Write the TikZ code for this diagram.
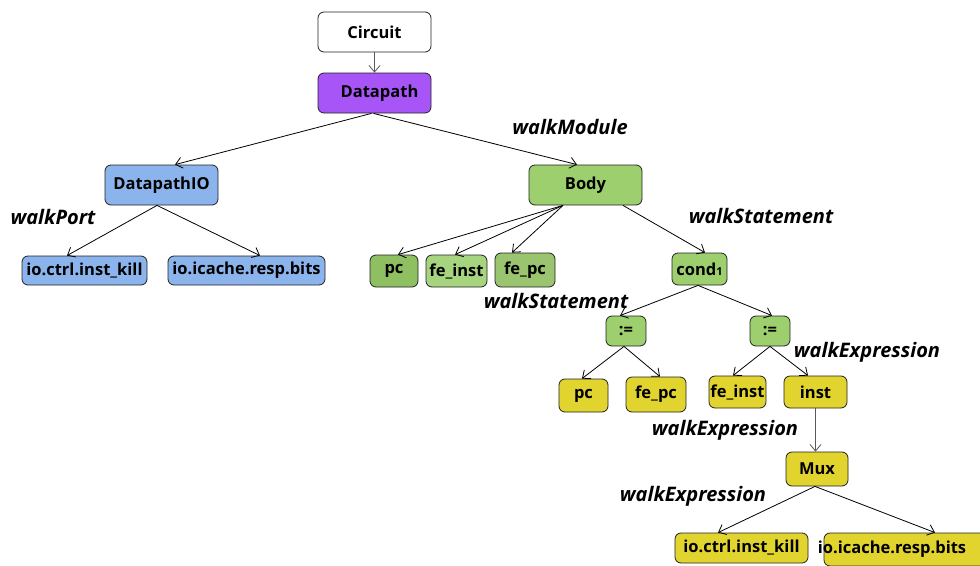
\documentclass[tikz,border=0pt]{standalone}
\usepackage{fontspec}
\setmainfont{Open Sans}
\usetikzlibrary{arrows.meta}

\definecolor{cpurple}{HTML}{A855F7}
\definecolor{cblue}{HTML}{8AB4EB}
\definecolor{cgreen}{HTML}{9DCF6E}
\definecolor{cgreendark}{HTML}{8EC062}
\definecolor{cgreenlight}{HTML}{A7D47F}
\definecolor{cgreenmid}{HTML}{9AC46F}
\definecolor{cyellow}{HTML}{E2D42E}
\definecolor{cedge}{HTML}{222222}

\tikzset{
  box/.style={draw=cedge, rounded corners=6pt, line width=0.8pt, inner sep=0pt,
    font=\fontsize{16.5}{19}\selectfont\bfseries},
  walk/.style={font=\fontsize{20}{24}\selectfont\bfseries\itshape},
  link/.style={draw=black, line width=0.8pt, -{Straight Barb[length=6.5pt,width=11pt]}},
  graylink/.style={link, draw=black!65},
}

\begin{document}
\begin{tikzpicture}[x=1pt, y=-1pt]
\useasboundingbox (0,0) rectangle (980,565);
\clip (0,0) rectangle (980,565);

% top of the tree
\node[box, fill=white, minimum width=113pt, minimum height=40pt] (circuit) at (374.5,32) {Circuit};
\node[box, fill=cpurple, minimum width=113pt, minimum height=40pt] (datapath) at (374.5,93) {\hspace*{10pt}Datapath};

% module level
\node[box, fill=cblue, minimum width=113pt, minimum height=40pt] (dpio) at (161.5,185) {DatapathIO};
\node[box, fill=cgreen, minimum width=113pt, minimum height=40pt] (body) at (585.5,185) {Body};

% ports
\node[box, fill=cblue, minimum width=125pt, minimum height=29pt] (ioA) at (84.5,270.5) {io.ctrl.inst\_kill};
\node[box, fill=cblue, minimum width=157pt, minimum height=29pt] (ioB) at (246.5,270.5) {io.icache.resp.bits};

% statements of the body
\node[box, fill=cgreendark, minimum width=48pt, minimum height=32pt] (pcG) at (394,271) {\raisebox{5pt}{pc}};
\node[box, fill=cgreenlight, minimum width=61pt, minimum height=32pt] (feinstG) at (456.5,271) {fe\_inst};
\node[box, fill=cgreenmid, minimum width=60pt, minimum height=34pt] (fepcG) at (525,270) {fe\_pc};
\node[box, fill=cgreen, minimum width=55pt, minimum height=32pt] (cond) at (699.5,269) {cond{\fontsize{11}{11}\selectfont 1}};

% assignments
\node[box, fill=cgreen, minimum width=40pt, minimum height=30pt] (asgA) at (626,331) {:=};
\node[box, fill=cgreen, minimum width=40pt, minimum height=30pt] (asgB) at (770,331) {:=};

% expressions
\node[box, fill=cyellow, minimum width=49pt, minimum height=33pt] (pcY) at (583.5,395.5) {pc};
\node[box, fill=cyellow, minimum width=60pt, minimum height=35pt] (fepcY) at (656,394.5) {fe\_pc};
\node[box, fill=cyellow, minimum width=57pt, minimum height=32pt] (feinstY) at (737.5,392) {fe\_inst};
\node[box, fill=cyellow, minimum width=63pt, minimum height=32pt] (inst) at (815.5,392) {inst};
\node[box, fill=cyellow, minimum width=62pt, minimum height=34pt] (mux) at (817,469) {Mux};
\node[box, fill=cyellow, minimum width=133pt, minimum height=30pt] (ioY1) at (741.5,548) {io.ctrl.inst\_kill};
\node[box, fill=cyellow, minimum width=171pt, minimum height=33pt] (ioY2) at (909.5,549.5) {};
\node[box, draw=none, fill=none] (ioY2text) at (892,549) {io.icache.resp.bits};

% walker labels
\node[walk] (lModule) at (570,127) {walkModule};
\node[walk] (lPort) at (53,217) {walkPort};
\node[walk] (lStmtA) at (761,216) {walkStatement};
\node[walk] (lStmtB) at (556,301) {walkStatement};
\node[walk] (lExprA) at (867,352) {walkExpression};
\node[walk] (lExprB) at (725,430) {walkExpression};
\node[walk] (lExprC) at (693,496) {walkExpression};

% connectors
\draw[graylink] (circuit.south) -- (datapath.north);
\draw[link] ([xshift=-3pt]datapath.south) -- ([xshift=13.5pt]dpio.north);
\draw[link] ([xshift=-1pt]datapath.south) -- ([xshift=-8.5pt]body.north);
\draw[link] ([xshift=-4.5pt]dpio.south) -- ([xshift=-17.5pt]ioA.north);
\draw[link] ([xshift=-4.5pt]dpio.south) -- ([xshift=13.5pt]ioB.north);
\draw[link] ([xshift=-22.5pt]body.south) -- ([xshift=4pt]pcG.north);
\draw[link] ([xshift=-22.5pt]body.south) -- ([xshift=-1.5pt]feinstG.north);
\draw[link] ([xshift=-22.5pt]body.south) -- ([xshift=-13pt]fepcG.north);
\draw[link] ([xshift=37.5pt]body.south) -- ([xshift=5.5pt]cond.north);
\draw[link] ([xshift=-1.5pt]cond.south) -- ([xshift=-6pt]asgA.north);
\draw[link] ([xshift=-1.5pt]cond.south) -- ([xshift=2pt]asgB.north);
\draw[link] ([xshift=-2pt]asgA.south) -- ([xshift=-1.5pt]pcY.north);
\draw[link] ([xshift=-2pt]asgA.south) -- ([xshift=4pt]fepcY.north);
\draw[link] (asgB.south) -- ([xshift=-4.5pt]feinstY.north);
\draw[link] (asgB.south) -- ([xshift=-7.5pt]inst.north);
\draw[graylink] (inst.south) -- (inst.south |- mux.north);
\draw[link] ([xshift=-2pt]mux.south) -- ([xshift=-23.5pt]ioY1.north);
\draw[link] ([xshift=-2pt]mux.south) -- ([xshift=25.5pt]ioY2.north);
\end{tikzpicture}
\end{document}
